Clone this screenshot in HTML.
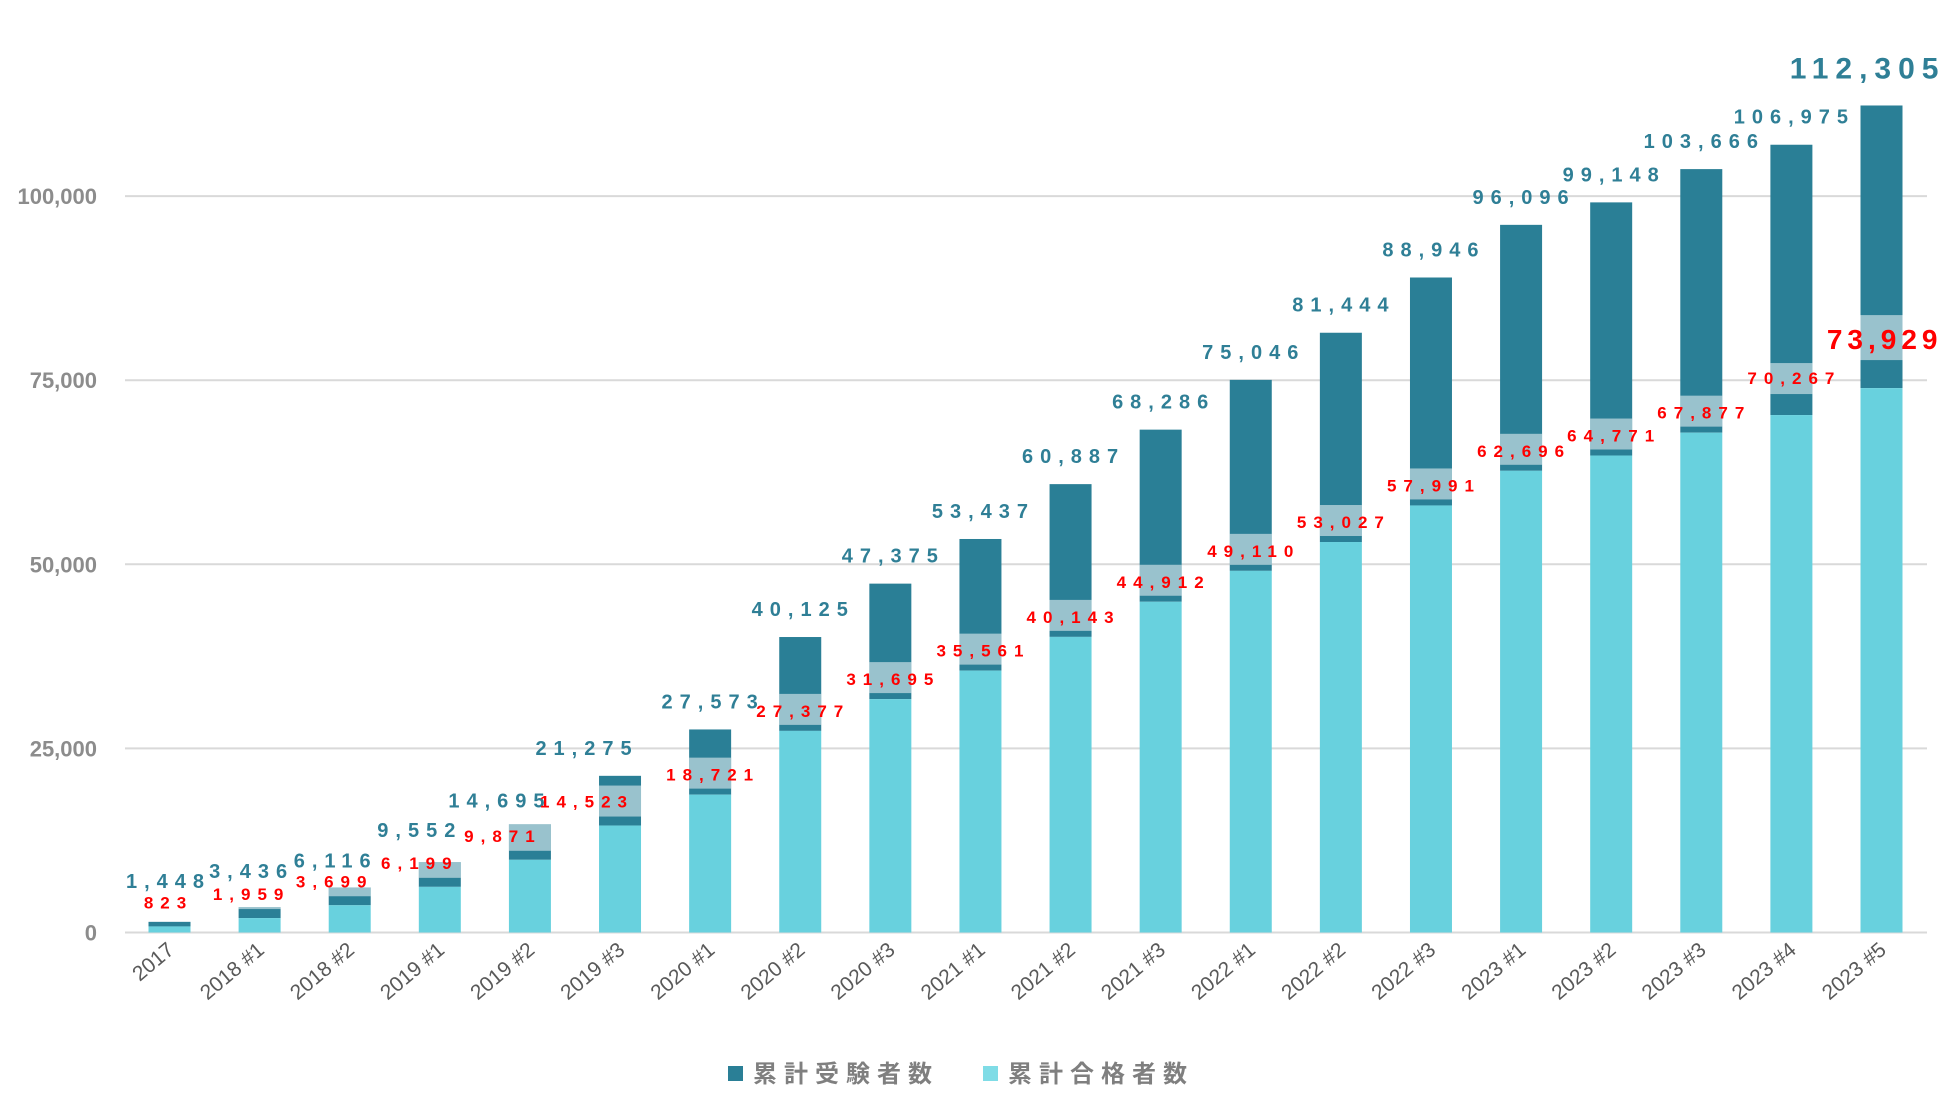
<!DOCTYPE html>
<html><head><meta charset="utf-8"><style>
html,body{margin:0;padding:0;background:#fff}
svg{display:block}
text{font-family:"Liberation Sans","Noto Sans CJK JP",sans-serif}
</style></head><body>
<svg id="chart" width="1950" height="1097" viewBox="0 0 1950 1097" xmlns="http://www.w3.org/2000/svg"></svg>
<script>
const categories=["2017","2018 #1","2018 #2","2019 #1","2019 #2","2019 #3","2020 #1","2020 #2","2020 #3","2021 #1","2021 #2","2021 #3","2022 #1","2022 #2","2022 #3","2023 #1","2023 #2","2023 #3","2023 #4","2023 #5"];
const totalExaminees=[1448,3436,6116,9552,14695,21275,27573,40125,47375,53437,60887,68286,75046,81444,88946,96096,99148,103666,106975,112305];
const totalPassed=[823,1959,3699,6199,9871,14523,18721,27377,31695,35561,40143,44912,49110,53027,57991,62696,64771,67877,70267,73929];
const yTicks=[0,25000,50000,75000,100000];

const NS="http://www.w3.org/2000/svg";
const svg=document.getElementById('chart');
function mk(tag,attrs,parent){const e=document.createElementNS(NS,tag);for(const k in attrs)e.setAttribute(k,attrs[k]);(parent||svg).appendChild(e);return e;}
const y0=932.5, pxPer=184.1/25000;
const yS=v=>y0-v*pxPer;
const x0=169.5, step=(1881.5-169.5)/19, bw=42;
const xS=i=>x0+i*step;
const fmt=v=>v.toLocaleString('en-US');
// label layout tweaks (style, not data)
const labelShiftX=[-4,-11,-17,-23,-33,-36];
const blueLift=[34,29,20,25,17,21];
const redShiftX=[-4,-11,-18,-23,-30,-36];

yTicks.forEach(t=>{
  const l=mk('line',{x1:125,x2:1927,y1:yS(t),y2:yS(t),stroke:'#d9d9d9','stroke-width':2});
  
  
  const tx=mk('text',{x:97,y:yS(t)+8,'text-anchor':'end','font-size':22,'font-weight':'bold',fill:'#8c8c8c'});
  tx.textContent=fmt(t);
  
  
});

categories.forEach((c,i)=>{
  const cx=xS(i), last=i===categories.length-1;
  const tY=yS(totalExaminees[i]), pY=yS(totalPassed[i]);
  const d=mk('rect',{x:cx-bw/2,y:tY,width:bw,height:pY-tY,fill:'#2a7f96'});
  
  
  const p=mk('rect',{x:cx-bw/2,y:pY,width:bw,height:y0-pY,fill:'#68d1de'});
  
  
  let gap, base, bh;
  if(last){gap=28;base=39;bh=45;}
  else if(i===18){gap=21;base=31;bh=31;}
  else if(i<6){gap=9;base=18;bh=31;}
  else {gap=6;base=14;bh=31;}
  const bb=pY-gap;
  const top=Math.max(bb-bh,tY);
  if(bb>top){
    const r=mk('rect',{x:cx-bw/2,y:top,width:bw,height:bb-top,fill:'#ffffff','fill-opacity':0.52});
    
    
  }
  let rl;
  if(last){
    rl=mk('text',{x:cx+61,y:pY-base,'text-anchor':'end','font-size':28,'font-weight':'bold',fill:'#ff0000','letter-spacing':5});
  } else {
    const rx=cx+(i<6?redShiftX[i]:0)+3;
    rl=mk('text',{x:rx,y:pY-base,'text-anchor':'middle','font-size':17,'font-weight':'bold',fill:'#ff0000','letter-spacing':7});
  }
  rl.textContent=fmt(totalPassed[i]);
  
  
  let bl;
  if(last){
    bl=mk('text',{x:cx+64,y:tY-27,'text-anchor':'end','font-size':30,'font-weight':'bold',fill:'#2f7f96','letter-spacing':7});
  } else {
    const bx=cx+(i<6?labelShiftX[i]:0)+3;
    const lift=i<6?blueLift[i]:21;
    bl=mk('text',{x:bx,y:tY-lift,'text-anchor':'middle','font-size':20,'font-weight':'bold',fill:'#2f7f96','letter-spacing':7});
  }
  bl.textContent=fmt(totalExaminees[i]);
  
  
  const xl=mk('text',{x:0,y:0,'text-anchor':'end','font-size':21,fill:'#595959',transform:`translate(${cx+6},${952}) rotate(-40)`});
  xl.textContent=c;
  
  
});

const legend=[["累計受験者数","#2a7f96",728],["累計合格者数","#7fdce6",983]];
legend.forEach(([t,col,x])=>{
  const g=mk('g',{});
  
  
  mk('rect',{x:x,y:1066,width:15,height:15,fill:col},g);
  const tx=mk('text',{x:x+25,y:1082,'font-size':24,'font-weight':'bold',fill:'#7f7f7f','letter-spacing':7},g);
  tx.textContent=t;
});
</script>
</body></html>
